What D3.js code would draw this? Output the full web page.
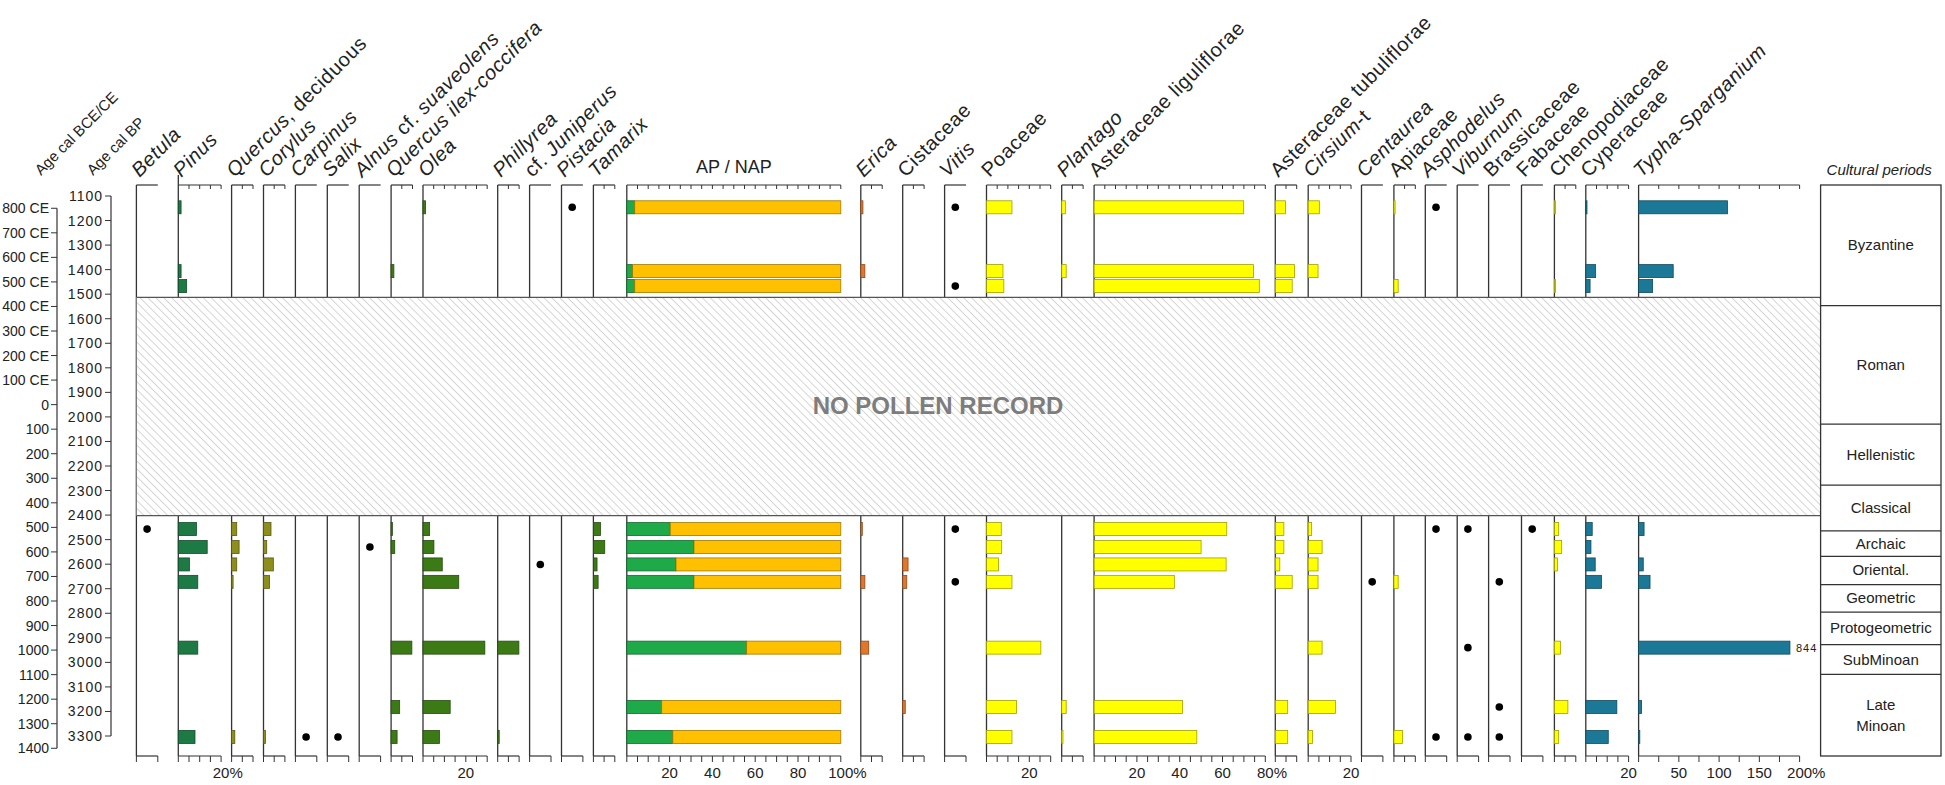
<!DOCTYPE html>
<html>
<head>
<meta charset="utf-8">
<script src="https://cdn.jsdelivr.net/npm/d3@7"></script>
<style>
  body { margin: 0; background: #fff; }
  text { font-family: "Liberation Sans", Arial, sans-serif; fill: #222; }
</style>
</head>
<body>
<script>
'use strict';

(() => {

  //sample ages, cal BP
  const sampleAges = [1146, 1406, 1467, 2457, 2530, 2601, 2672, 2940, 3182, 3304];
  const P = -1; //present, shown as a dot

  //percentages per sample
  const betula = [0, 0, 0, P, 0, 0, 0, 0, 0, 0];
  const pinus = [1.3, 1.3, 3.9, 8.5, 13.5, 5.2, 9.1, 9.1, 0, 7.8];
  const quercusDec = [0, 0, 0, 2.4, 3.5, 2.4, 0.7, 0, 0, 1.5];
  const corylus = [0, 0, 0, 3.5, 1.5, 4.6, 2.8, 0, 0, 0.9];
  const carpinus = [0, 0, 0, 0, 0, 0, 0, 0, 0, P];
  const salix = [0, 0, 0, 0, 0, 0, 0, 0, 0, P];
  const alnus = [0, 0, 0, 0, P, 0, 0, 0, 0, 0];
  const quercusIlex = [0, 1.3, 0, 0.6, 1.7, 0, 0, 9.7, 4, 2.8];
  const olea = [1.2, 0, 0, 3.1, 5.1, 9, 16.7, 28.9, 12.7, 7.7];
  const phillyrea = [0, 0, 0, 0, 0, 0, 0, 9.9, 0, 0.7];
  const juniperus = [0, 0, 0, 0, 0, P, 0, 0, 0, 0];
  const pistacia = [P, 0, 0, 0, 0, 0, 0, 0, 0, 0];
  const tamarix = [0, 0, 0, 3.3, 5.3, 1.7, 2.2, 0, 0, 0];
  const apTotal = [3.7, 2.7, 3.7, 20.3, 31.4, 23, 31.4, 56, 16.3, 21.5];
  const erica = [1, 1.9, 0, 0.7, 0, 0, 1.9, 3.7, 0, 0];
  const cistaceae = [0, 0, 0, 0, 0, 2.5, 1.9, 0, 1.2, 0];
  const vitis = [P, 0, P, P, 0, 0, P, 0, 0, 0];
  const poaceae = [11.9, 7.7, 8.1, 6.9, 7.1, 5.6, 11.9, 25.4, 14, 11.9];
  const plantago = [1.7, 2.1, 0, 0, 0, 0, 0, 0, 2.1, 0.6];
  const asterLig = [69.9, 74.5, 77.2, 62, 50, 61.7, 37.5, 0, 41.3, 48];
  const asterTub = [4.8, 9, 7.9, 4, 4, 2.1, 7.9, 0, 5.8, 5.8];
  const cirsium = [5.2, 4.6, 0, 1.6, 6.5, 4.6, 4.6, 6.5, 12.7, 2];
  const centaurea = [0, 0, 0, 0, 0, 0, P, 0, 0, 0];
  const apiaceae = [0.3, 0, 2, 0, 0, 0, 2, 0, 0, 4];
  const asphodelus = [P, 0, 0, P, 0, 0, 0, 0, 0, P];
  const viburnum = [0, 0, 0, P, 0, 0, 0, P, 0, P];
  const brassicaceae = [0, 0, 0, 0, 0, 0, P, 0, P, P];
  const fabaceae = [0, 0, 0, P, 0, 0, 0, 0, 0, 0];
  const chenopodiaceae = [0.3, 0, 0.3, 2, 3.4, 1.4, 0, 2.8, 6.3, 2];
  const cyperaceae = [0.3, 4.6, 2, 3, 2.4, 4.4, 7.3, 0, 14.5, 10.5];
  const typha = [110.5, 43, 17.4, 6.8, 0, 5.8, 14.2, 844, 3.7, 1];

  //age axes
  const bpTicks = [1100, 1200, 1300, 1400, 1500, 1600, 1700, 1800, 1900, 2000, 2100,
    2200, 2300, 2400, 2500, 2600, 2700, 2800, 2900, 3000, 3100, 3200, 3300];
  const calTicks = [800, 700, 600, 500, 400, 300, 200, 100, 0, -100, -200, -300, -400,
    -500, -600, -700, -800, -900, -1000, -1100, -1200, -1300, -1400]; //CE positive, BCE negative
  const gapAges = [1513, 2402]; //no pollen record

  //cultural periods, boundaries in cal BP
  const periodNames = ['Byzantine', 'Roman', 'Hellenistic', 'Classical', 'Archaic',
    'Oriental.', 'Geometric', 'Protogeometric', 'SubMinoan', 'Late|Minoan'];
  const periodBounds = [1055, 1547, 2029, 2278, 2464, 2568, 2683, 2795, 2928, 3049, 3383];

  //colours
  const cPinus = '#1d7a44';
  const cDecid = '#8e8e1c';
  const cMacchia = '#3b7a15';
  const cAP = '#1faa4a';
  const cNAP = '#ffc000';
  const cHeath = '#e2762b';
  const cHerb = '#ffff00';
  const cWet = '#1b7896';

  const panels = [
    { name: [['Betula', 1]], values: betula, max: 10, fill: cPinus, gap: 0 },
    { name: [['Pinus', 1]], values: pinus, max: 20, fill: cPinus, gap: 20.5, labels: [20], pct: true },
    { name: [['Quercus', 1], [', deciduous', 0]], values: quercusDec, max: 10, fill: cDecid, gap: 10.5 },
    { name: [['Corylus', 1]], values: corylus, max: 10, fill: cDecid, gap: 10.5 },
    { name: [['Carpinus', 1]], values: carpinus, max: 10, fill: cDecid, gap: 10.5 },
    { name: [['Salix', 1]], values: salix, max: 10, fill: cDecid, gap: 10.5 },
    { name: [['Alnus', 1], [' cf. ', 0], ['suaveolens', 1]], values: alnus, max: 10, fill: cDecid, gap: 10.5 },
    { name: [['Quercus ilex-coccifera', 1]], values: quercusIlex, max: 10, fill: cMacchia, gap: 10.5 },
    { name: [['Olea', 1]], values: olea, max: 30, fill: cMacchia, gap: 10.5, labels: [20] },
    { name: [['Phillyrea', 1]], values: phillyrea, max: 10, fill: cMacchia, gap: 10.5 },
    { name: [['cf. ', 0], ['Juniperus', 1]], values: juniperus, max: 10, fill: cMacchia, gap: 10.5 },
    { name: [['Pistacia', 1]], values: pistacia, max: 10, fill: cMacchia, gap: 10.5 },
    { name: [['Tamarix', 1]], values: tamarix, max: 10, fill: cMacchia, gap: 10.5 },
    { name: null, values: apTotal, max: 100, fill: cAP, gap: 12, labels: [20, 40, 60, 80, 100], pct: true, ap: true },
    { name: [['Erica', 1]], values: erica, max: 10, fill: cHeath, gap: 20 },
    { name: [['Cistaceae', 0]], values: cistaceae, max: 10, fill: cHeath, gap: 20.5 },
    { name: [['Vitis', 1]], values: vitis, max: 10, fill: cHerb, gap: 20.5 },
    { name: [['Poaceae', 0]], values: poaceae, max: 30, fill: cHerb, gap: 20.5, labels: [20] },
    { name: [['Plantago', 1]], values: plantago, max: 10, fill: cHerb, gap: 11 },
    { name: [['Asteraceae liguliflorae', 0]], values: asterLig, max: 80, fill: cHerb, gap: 11, labels: [20, 40, 60, 80], pct: true },
    { name: [['Asteraceae tubuliflorae', 0]], values: asterTub, max: 10, fill: cHerb, gap: 10 },
    { name: [['Cirsium', 1], ['-t', 0]], values: cirsium, max: 20, fill: cHerb, gap: 11.5, labels: [20] },
    { name: [['Centaurea', 1]], values: centaurea, max: 10, fill: cHerb, gap: 10.5 },
    { name: [['Apiaceae', 0]], values: apiaceae, max: 10, fill: cHerb, gap: 11 },
    { name: [['Asphodelus', 1]], values: asphodelus, max: 10, fill: cHerb, gap: 10 },
    { name: [['Viburnum', 1]], values: viburnum, max: 10, fill: cHerb, gap: 10.5 },
    { name: [['Brassicaceae', 0]], values: brassicaceae, max: 10, fill: cHerb, gap: 10 },
    { name: [['Fabaceae', 0]], values: fabaceae, max: 10, fill: cHerb, gap: 11.5 },
    { name: [['Chenopodiaceae', 0]], values: chenopodiaceae, max: 10, fill: cHerb, gap: 11.5 },
    { name: [['Cyperaceae', 0]], values: cyperaceae, max: 20, fill: cWet, gap: 10, labels: [20] },
    { name: [['Typha-Sparganium', 1]], values: typha, max: 200, fill: cWet, gap: 10, labels: [50, 100, 150, 200], pct: true, step: 25, width: 161, cap: 188 }
  ];

  //dimensions
  const W = 1945;
  const H = 785;
  const pxPerPct = 2.14;
  const yTop = 185;
  const yBottom = 756;
  const barH = 13;
  const xStart = 136.4;
  const xBox = 1820.6;
  const xBoxEnd = 1941;
  const calAxisX = 57;
  const bpAxisX = 111;

  const y = d3.scaleLinear().domain([1100, 3300]).range([196, 736]);

  const svg = d3.select('body').append('svg')
    .attr('width', W)
    .attr('height', H);

  //panel scales
  let cursor = xStart;
  panels.forEach((p) => {
    cursor += p.gap;
    const w = p.width || p.max * pxPerPct;
    p.x = d3.scaleLinear().domain([0, p.max]).range([cursor, cursor + w]);
    p.hasBars = p.values.some((v) => v > 0);
    cursor += w;
  });

  const rich = (t, segs) => {
    segs.forEach(([s, it]) => {
      t.append('tspan').text(s).style('font-style', it ? 'italic' : 'normal');
    });
  };

  //panel frames
  const frames = svg.append('g');
  panels.forEach((p) => {
    const [x0, x1] = p.x.range();
    const step = p.step || 5;
    frames.append('line')
      .attr('x1', x0).attr('x2', x0)
      .attr('y1', p.name && p.name[0][0] === 'Pinus' ? yTop - 10 : yTop)
      .attr('y2', yBottom)
      .attr('stroke', '#333').attr('stroke-width', 1.3);
    [yTop, yBottom].forEach((ya) => {
      frames.append('line')
        .attr('x1', x0).attr('x2', x1)
        .attr('y1', ya).attr('y2', ya)
        .attr('stroke', '#333').attr('stroke-width', 1.2);
    });
    const ticks = d3.range(0, p.max + 0.01, step);
    //top ticks
    (p.hasBars ? ticks.slice(1) : []).forEach((t) => {
      frames.append('line')
        .attr('x1', p.x(t)).attr('x2', p.x(t))
        .attr('y1', yTop).attr('y2', yTop + 4)
        .attr('stroke', '#333').attr('stroke-width', 1);
    });
    //bottom ticks
    (p.hasBars ? ticks : [0, p.max]).forEach((t) => {
      frames.append('line')
        .attr('x1', p.x(t)).attr('x2', p.x(t))
        .attr('y1', yBottom).attr('y2', yBottom + 6)
        .attr('stroke', '#333').attr('stroke-width', 1);
    });
    //bottom labels, last one with %
    (p.labels || []).forEach((t, i) => {
      const lab = frames.append('text')
        .attr('x', p.x(t))
        .attr('y', yBottom + 22)
        .attr('text-anchor', 'middle')
        .style('font-size', '15px')
        .text(t);
      if (p.pct && i === p.labels.length - 1) {
        const half = lab.node().getComputedTextLength() / 2;
        frames.append('text')
          .attr('x', p.x(t) + half)
          .attr('y', yBottom + 22)
          .style('font-size', '15px')
          .text('%');
      }
    });
    //header
    if (p.name) {
      const hx = x0 + 3;
      const hy = yTop - 7;
      const t = frames.append('text')
        .attr('x', hx).attr('y', hy)
        .attr('transform', `rotate(-45, ${hx}, ${hy})`)
        .style('font-size', '20px')
        .style('letter-spacing', '0.6px');
      rich(t, p.name);
    } else {
      frames.append('text')
        .attr('x', (x0 + x1) / 2).attr('y', yTop - 12)
        .attr('text-anchor', 'middle')
        .style('font-size', '18px')
        .text('AP / NAP');
    }
  });

  //bars and dots
  const marks = svg.append('g');
  panels.forEach((p) => {
    p.values.forEach((v, i) => {
      const cy = y(sampleAges[i]);
      if (v === P) {
        marks.append('circle')
          .attr('cx', p.x(5)).attr('cy', cy)
          .attr('r', 3.8)
          .attr('fill', '#000');
        return;
      }
      if (v <= 0) return;
      const shown = p.cap ? Math.min(v, p.cap) : v;
      marks.append('rect')
        .attr('x', p.x(0)).attr('y', cy - barH / 2)
        .attr('width', Math.max(p.x(shown) - p.x(0), 1.2))
        .attr('height', barH)
        .attr('fill', p.fill)
        .attr('stroke', d3.color(p.fill).darker(1.3))
        .attr('stroke-width', 0.8);
      if (p.ap) {
        marks.append('rect')
          .attr('x', p.x(v)).attr('y', cy - barH / 2)
          .attr('width', p.x(100) - p.x(v))
          .attr('height', barH)
          .attr('fill', cNAP)
          .attr('stroke', d3.color(cNAP).darker(1.3))
          .attr('stroke-width', 0.8);
      }
      if (p.cap && v > p.cap) {
        marks.append('text')
          .attr('x', p.x(shown) + 6).attr('y', cy + 4)
          .style('font-size', '11px')
          .style('letter-spacing', '1px')
          .attr('fill', '#444')
          .text(v);
      }
    });
  });

  //no pollen record
  const defs = svg.append('defs');
  const pat = defs.append('pattern')
    .attr('id', 'hatch')
    .attr('patternUnits', 'userSpaceOnUse')
    .attr('width', 5.6).attr('height', 5.6)
    .attr('patternTransform', 'rotate(-45)');
  pat.append('rect').attr('width', 5.6).attr('height', 5.6).attr('fill', '#fff');
  pat.append('line')
    .attr('x1', 0).attr('x2', 0).attr('y1', 0).attr('y2', 5.6)
    .attr('stroke', '#b4b4b4').attr('stroke-width', 1.1);
  const gy0 = y(gapAges[0]);
  const gy1 = y(gapAges[1]);
  svg.append('rect')
    .attr('x', xStart).attr('y', gy0)
    .attr('width', xBox - xStart).attr('height', gy1 - gy0)
    .attr('fill', 'url(#hatch)');
  [gy0, gy1].forEach((gy) => {
    svg.append('line')
      .attr('x1', xStart).attr('x2', xBox)
      .attr('y1', gy).attr('y2', gy)
      .attr('stroke', '#555').attr('stroke-width', 1.3);
  });
  svg.append('line')
    .attr('x1', xStart).attr('x2', xStart)
    .attr('y1', gy0).attr('y2', gy1)
    .attr('stroke', '#777').attr('stroke-width', 1);
  svg.append('text')
    .attr('x', 938).attr('y', (gy0 + gy1) / 2 + 8)
    .attr('text-anchor', 'middle')
    .style('font-size', '24px')
    .style('font-weight', 'bold')
    .style('fill', '#7d7d7d')
    .text('NO POLLEN RECORD');

  //age axes
  const axes = svg.append('g').style('font-size', '14px');
  axes.append('line')
    .attr('x1', bpAxisX).attr('x2', bpAxisX)
    .attr('y1', y(bpTicks[0])).attr('y2', y(bpTicks[bpTicks.length - 1]))
    .attr('stroke', '#333').attr('stroke-width', 1.2);
  bpTicks.forEach((t) => {
    axes.append('line')
      .attr('x1', bpAxisX - 6).attr('x2', bpAxisX)
      .attr('y1', y(t)).attr('y2', y(t))
      .attr('stroke', '#333');
    axes.append('text')
      .attr('x', bpAxisX - 8).attr('y', y(t) + 5)
      .attr('text-anchor', 'end')
      .style('letter-spacing', '1px')
      .text(t);
  });
  const calY = (c) => y(1950 - c);
  axes.append('line')
    .attr('x1', calAxisX).attr('x2', calAxisX)
    .attr('y1', calY(calTicks[0])).attr('y2', calY(calTicks[calTicks.length - 1]))
    .attr('stroke', '#333').attr('stroke-width', 1.2);
  calTicks.forEach((t) => {
    axes.append('line')
      .attr('x1', calAxisX - 6).attr('x2', calAxisX)
      .attr('y1', calY(t)).attr('y2', calY(t))
      .attr('stroke', '#333');
    axes.append('text')
      .attr('x', calAxisX - 8).attr('y', calY(t) + 5)
      .attr('text-anchor', 'end')
      .text(t > 0 ? `${t} CE` : Math.abs(t));
  });
  [['Age cal BCE/CE', calAxisX - 16], ['Age cal BP', bpAxisX - 18]].forEach(([s, ax]) => {
    axes.append('text')
      .attr('x', ax).attr('y', yTop - 9)
      .attr('transform', `rotate(-45, ${ax}, ${yTop - 9})`)
      .style('font-size', '15px')
      .text(s);
  });

  //cultural periods
  const per = svg.append('g');
  per.append('text')
    .attr('x', xBox + 6).attr('y', yTop - 10)
    .style('font-size', '15px')
    .style('font-style', 'italic')
    .text('Cultural periods');
  per.append('rect')
    .attr('x', xBox).attr('y', yTop)
    .attr('width', xBoxEnd - xBox).attr('height', yBottom - yTop)
    .attr('fill', 'none')
    .attr('stroke', '#333').attr('stroke-width', 1.3);
  periodNames.forEach((n, i) => {
    const a = i === 0 ? yTop : y(periodBounds[i]);
    const b = i === periodNames.length - 1 ? yBottom : y(periodBounds[i + 1]);
    if (i > 0) {
      per.append('line')
        .attr('x1', xBox).attr('x2', xBoxEnd)
        .attr('y1', a).attr('y2', a)
        .attr('stroke', '#333').attr('stroke-width', 1.3);
    }
    const lines = n.split('|');
    lines.forEach((s, j) => {
      per.append('text')
        .attr('x', (xBox + xBoxEnd) / 2)
        .attr('y', (a + b) / 2 + 5 + (j - (lines.length - 1) / 2) * 21)
        .attr('text-anchor', 'middle')
        .style('font-size', '15px')
        .text(s);
    });
  });

})();
</script>
</body>
</html>
